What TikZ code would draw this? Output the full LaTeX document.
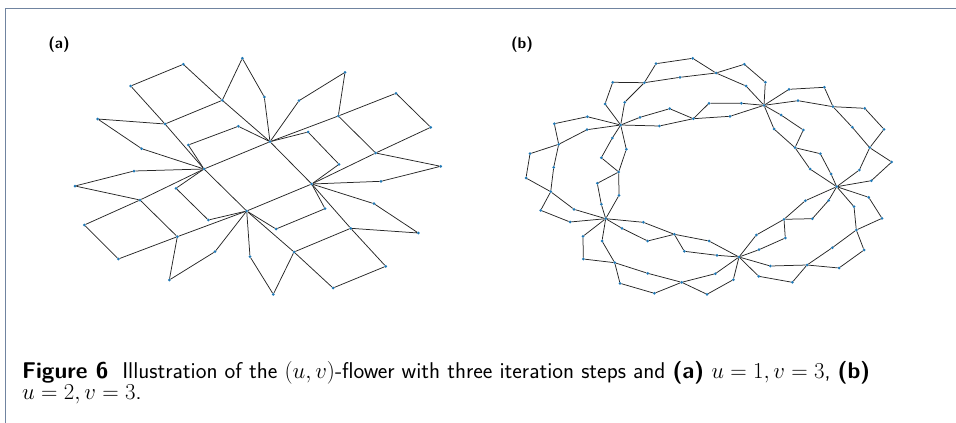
\documentclass[tikz,border=0pt]{standalone}
\usepackage{fix-cm}
\usepackage{amsmath}
\usepackage{tikz}
\usetikzlibrary{positioning}
\definecolor{dotblue}{RGB}{31,119,180}
\definecolor{framegray}{RGB}{112,132,160}
\tikzstyle{vert} = [circle, fill=dotblue, inner sep=0pt, outer sep=0pt, minimum size=3pt]
\tikzstyle{edge} = [draw, black!85, line width=0.75pt]
\tikzstyle{tag} = [font=\sffamily\bfseries\fontsize{15.5}{18}\selectfont]
\tikzstyle{capt} = [anchor=base west, inner sep=0pt, font=\sffamily\fontsize{22.8}{26}\selectfont]

\begin{document}
\begin{tikzpicture}[x=1pt, y=-1pt]
    \useasboundingbox (0,0) rectangle (956,423);
    \draw [framegray, line width=1pt] (5.5,423) -- (5.5,8.5) -- (956,8.5);

    \node [tag] (taga) at (59,45) {(a)};
    \node [tag] (tagb) at (522,45) {(b)};

    % (a) u=1, v=3
    \node [vert] (aL) at (204,169) {};
    \node [vert] (aT) at (270,141.7) {};
    \node [vert] (aR) at (311.7,184) {};
    \node [vert] (aB) at (246.7,211) {};
    \node [vert] (a1) at (183.3,64.3) {};
    \node [vert] (a2) at (242.3,58.3) {};
    \node [vert] (a3) at (130.7,86) {};
    \node [vert] (a4) at (222.3,100.3) {};
    \node [vert] (a5) at (97.7,119) {};
    \node [vert] (a6) at (165,124) {};
    \node [vert] (a7) at (238.3,126.3) {};
    \node [vert] (a8) at (188.3,145) {};
    \node [vert] (a9) at (141.7,148.7) {};
    \node [vert] (a10) at (134,171) {};
    \node [vert] (a11) at (75,186) {};
    \node [vert] (a12) at (140,200) {};
    \node [vert] (a13) at (176,188.3) {};
    \node [vert] (a14) at (208.3,220) {};
    \node [vert] (a15) at (84.3,225) {};
    \node [vert] (a16) at (177.3,236.7) {};
    \node [vert] (a17) at (215,251.7) {};
    \node [vert] (a18) at (118.3,259) {};
    \node [vert] (a19) at (250,256.7) {};
    \node [vert] (a20) at (169.3,280) {};
    \node [vert] (a21) at (381,181.3) {};
    \node [vert] (a22) at (374,203.7) {};
    \node [vert] (a23) at (418.3,233) {};
    \node [vert] (a24) at (325,208.7) {};
    \node [vert] (a25) at (276,229) {};
    \node [vert] (a26) at (350.7,228.3) {};
    \node [vert] (a27) at (294,252) {};
    \node [vert] (a28) at (385.7,266.3) {};
    \node [vert] (a29) at (333,288) {};
    \node [vert] (a30) at (273.3,294.3) {};
    \node [vert] (a31) at (264.3,97) {};
    \node [vert] (a32) at (345,72.3) {};
    \node [vert] (a33) at (299,100.7) {};
    \node [vert] (a34) at (396,93.3) {};
    \node [vert] (a35) at (338.3,116) {};
    \node [vert] (a36) at (308,132) {};
    \node [vert] (a37) at (430.7,127.3) {};
    \node [vert] (a38) at (339,164.3) {};
    \node [vert] (a39) at (375.7,153) {};
    \node [vert] (a40) at (440.7,166.3) {};

    \path [edge] (aL) -- (aT);
    \path [edge] (aL) -- (a8) -- (a7) -- (aT);
    \path [edge] (aL) -- (a6) -- (a4) -- (aT);
    \path [edge] (aL) -- (a9) -- (a5) -- (a6);
    \path [edge] (a6) -- (a3) -- (a1) -- (a4);
    \path [edge] (a4) -- (a2) -- (a31) -- (aT);

    \path [edge] (aL) -- (aB);
    \path [edge] (aL) -- (a13) -- (a14) -- (aB);
    \path [edge] (aL) -- (a12) -- (a16) -- (aB);
    \path [edge] (aL) -- (a10) -- (a11) -- (a12);
    \path [edge] (a12) -- (a15) -- (a18) -- (a16);
    \path [edge] (a16) -- (a20) -- (a17) -- (aB);

    \path [edge] (aB) -- (aR);
    \path [edge] (aB) -- (a25) -- (a24) -- (aR);
    \path [edge] (aB) -- (a27) -- (a26) -- (aR);
    \path [edge] (aB) -- (a19) -- (a30) -- (a27);
    \path [edge] (a27) -- (a29) -- (a28) -- (a26);
    \path [edge] (a26) -- (a23) -- (a22) -- (aR);

    \path [edge] (aR) -- (aT);
    \path [edge] (aR) -- (a38) -- (a36) -- (aT);
    \path [edge] (aR) -- (a39) -- (a35) -- (aT);
    \path [edge] (aR) -- (a21) -- (a40) -- (a39);
    \path [edge] (a39) -- (a37) -- (a34) -- (a35);
    \path [edge] (a35) -- (a32) -- (a33) -- (aT);

    % (b) u=2, v=3
    \node [vert] (h1) at (620.7,125) {};
    \node [vert] (h2) at (764,105.3) {};
    \node [vert] (h3) at (836.7,186.7) {};
    \node [vert] (h4) at (739,257) {};
    \node [vert] (h5) at (605.7,218.7) {};

    % h1 -- h2
    \node [vert] (x12) at (693.3,118.7) {};
    \node [vert] (y12) at (644.3,82.7) {};
    \node [vert] (z12) at (716,73) {};
    \node [vert] (s12a) at (659.3,126) {};
    \node [vert] (s12b) at (640,117.3) {};
    \node [vert] (s12c) at (669.7,108.7) {};
    \node [vert] (s12d) at (730,116.3) {};
    \node [vert] (s12e) at (709,103.3) {};
    \node [vert] (s12f) at (741.3,103.3) {};
    \node [vert] (s12g) at (624.7,102.3) {};
    \node [vert] (s12h) at (605,104) {};
    \node [vert] (s12i) at (612.7,82.3) {};
    \node [vert] (s12j) at (680,77.3) {};
    \node [vert] (s12k) at (656,63.7) {};
    \node [vert] (s12l) at (692.7,58.3) {};
    \node [vert] (s12m) at (746,86) {};
    \node [vert] (s12n) at (744.3,64.3) {};
    \node [vert] (s12o) at (765.3,82.3) {};

    % h2 -- h3
    \node [vert] (x23) at (795,147.7) {};
    \node [vert] (y23) at (833,106.7) {};
    \node [vert] (z23) at (869.7,147.7) {};
    \node [vert] (s23a) at (774,129) {};
    \node [vert] (s23b) at (781,115) {};
    \node [vert] (s23c) at (803.3,130) {};
    \node [vert] (s23d) at (810,169) {};
    \node [vert] (s23e) at (820.3,153.7) {};
    \node [vert] (s23f) at (831,174) {};
    \node [vert] (s23g) at (798,100.7) {};
    \node [vert] (s23h) at (789,89.3) {};
    \node [vert] (s23i) at (824.3,87.3) {};
    \node [vert] (s23j) at (852.3,127.3) {};
    \node [vert] (s23k) at (864.7,108.3) {};
    \node [vert] (s23l) at (884,129.3) {};
    \node [vert] (s23m) at (859.3,170) {};
    \node [vert] (s23n) at (891.7,162) {};
    \node [vert] (s23o) at (871.3,180.7) {};

    % h3 -- h4
    \node [vert] (x34) at (784,219.3) {};
    \node [vert] (y34) at (856.3,230) {};
    \node [vert] (z34) at (807,265) {};
    \node [vert] (s34a) at (805.3,200.7) {};
    \node [vert] (s34b) at (828.7,200.3) {};
    \node [vert] (s34c) at (812.3,218.7) {};
    \node [vert] (s34d) at (756.3,235) {};
    \node [vert] (s34e) at (785.3,238) {};
    \node [vert] (s34f) at (759,249.7) {};
    \node [vert] (s34g) at (854,206.7) {};
    \node [vert] (s34h) at (868.7,197.3) {};
    \node [vert] (s34i) at (882,218.3) {};
    \node [vert] (s34j) at (832.3,247.7) {};
    \node [vert] (s34k) at (864,250) {};
    \node [vert] (s34l) at (839,268) {};
    \node [vert] (s34m) at (770.3,266) {};
    \node [vert] (s34n) at (792.3,282.3) {};
    \node [vert] (s34o) at (758.7,276.3) {};

    % h5 -- h4
    \node [vert] (x45) at (674.3,234.3) {};
    \node [vert] (y45) at (614.7,262.7) {};
    \node [vert] (z45) at (681.7,282.3) {};
    \node [vert] (s45a) at (643.3,222.3) {};
    \node [vert] (s45b) at (622,228.3) {};
    \node [vert] (s45c) at (647.7,241) {};
    \node [vert] (s45d) at (709,241) {};
    \node [vert] (s45e) at (684.3,251.3) {};
    \node [vert] (s45f) at (717,255.3) {};
    \node [vert] (s45g) at (602,241) {};
    \node [vert] (s45h) at (583,236.3) {};
    \node [vert] (s45i) at (583.3,259) {};
    \node [vert] (s45j) at (647.7,273.3) {};
    \node [vert] (s45k) at (620,283.3) {};
    \node [vert] (s45l) at (654.3,293.3) {};
    \node [vert] (s45m) at (715.3,273.7) {};
    \node [vert] (s45n) at (707,294.3) {};
    \node [vert] (s45o) at (733.3,279.7) {};

    % h1 -- h5
    \node [vert] (x51) at (618.7,172) {};
    \node [vert] (y51) at (558.7,144.3) {};
    \node [vert] (z51) at (550.7,191.7) {};
    \node [vert] (s51a) at (626.3,149.3) {};
    \node [vert] (s51b) at (612.3,138) {};
    \node [vert] (s51c) at (601.3,157.7) {};
    \node [vert] (s51d) at (619,195.3) {};
    \node [vert] (s51e) at (597.3,183.3) {};
    \node [vert] (s51f) at (601.3,204.3) {};
    \node [vert] (s51g) at (587,129.7) {};
    \node [vert] (s51h) at (587.3,116.7) {};
    \node [vert] (s51i) at (554.3,123.7) {};
    \node [vert] (s51j) at (553.7,167.3) {};
    \node [vert] (s51k) at (530,153.7) {};
    \node [vert] (s51l) at (526,178) {};
    \node [vert] (s51m) at (574,209.3) {};
    \node [vert] (s51n) at (540.7,210.3) {};
    \node [vert] (s51o) at (570,222) {};

    \path [edge] (h1) -- (s12a) -- (x12) -- (s12d) -- (h2);
    \path [edge] (h1) -- (s12b) -- (s12c) -- (x12) -- (s12e) -- (s12f) -- (h2);
    \path [edge] (h1) -- (s12g) -- (y12) -- (s12j) -- (z12) -- (s12m) -- (h2);
    \path [edge] (h1) -- (s12h) -- (s12i) -- (y12) -- (s12k) -- (s12l) -- (z12) -- (s12n) -- (s12o) -- (h2);

    \path [edge] (h2) -- (s23a) -- (x23) -- (s23d) -- (h3);
    \path [edge] (h2) -- (s23b) -- (s23c) -- (x23) -- (s23e) -- (s23f) -- (h3);
    \path [edge] (h2) -- (s23g) -- (y23) -- (s23j) -- (z23) -- (s23m) -- (h3);
    \path [edge] (h2) -- (s23h) -- (s23i) -- (y23) -- (s23k) -- (s23l) -- (z23) -- (s23n) -- (s23o) -- (h3);

    \path [edge] (h3) -- (s34a) -- (x34) -- (s34d) -- (h4);
    \path [edge] (h3) -- (s34b) -- (s34c) -- (x34) -- (s34e) -- (s34f) -- (h4);
    \path [edge] (h3) -- (s34g) -- (y34) -- (s34j) -- (z34) -- (s34m) -- (h4);
    \path [edge] (h3) -- (s34h) -- (s34i) -- (y34) -- (s34k) -- (s34l) -- (z34) -- (s34n) -- (s34o) -- (h4);

    \path [edge] (h5) -- (s45a) -- (x45) -- (s45d) -- (h4);
    \path [edge] (h5) -- (s45b) -- (s45c) -- (x45) -- (s45e) -- (s45f) -- (h4);
    \path [edge] (h5) -- (s45g) -- (y45) -- (s45j) -- (z45) -- (s45m) -- (h4);
    \path [edge] (h5) -- (s45h) -- (s45i) -- (y45) -- (s45k) -- (s45l) -- (z45) -- (s45n) -- (s45o) -- (h4);

    \path [edge] (h1) -- (s51a) -- (x51) -- (s51d) -- (h5);
    \path [edge] (h1) -- (s51b) -- (s51c) -- (x51) -- (s51e) -- (s51f) -- (h5);
    \path [edge] (h1) -- (s51g) -- (y51) -- (s51j) -- (z51) -- (s51m) -- (h5);
    \path [edge] (h1) -- (s51h) -- (s51i) -- (y51) -- (s51k) -- (s51l) -- (z51) -- (s51n) -- (s51o) -- (h5);

    % caption
    \node [capt] (cap1) at (22,378) {\textbf{Figure 6}\hspace{0.3em} Illustration of the $(u,v)$-flower with three iteration steps and \textbf{(a)} $u=1,v=3$, \textbf{(b)}};
    \node [capt] (cap2) at (22,399) {$u=2,v=3$.};
\end{tikzpicture}
\end{document}
